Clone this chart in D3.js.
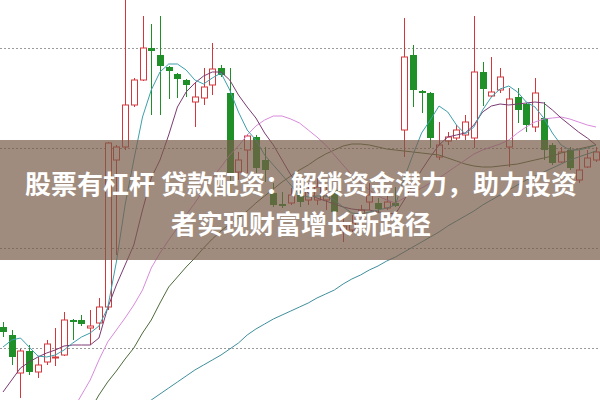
<!DOCTYPE html>
<html><head><meta charset="utf-8">
<script src="https://cdn.jsdelivr.net/npm/d3@7/dist/d3.min.js"></script>
<style>html,body{margin:0;padding:0;background:#fff;overflow:hidden}</style>
</head><body><svg id="c" width="600" height="400"></svg>
<script>
const opens  = [11.05,10.65,8.75,9.85,8.80,9.30,9.50,9.65,11.40,11.40,11.00,11.25,12.05,19.40,20.05,22.15,23.40,25.00,24.65,24.05,23.70,23.40,22.30,22.50,23.15,24.00,22.75,18.80,19.90,20.55,19.40,17.75,17.20,17.25,17.75,17.40,17.40,17.40,17.90,15.90,15.90,16.70,17.30,17.25,17.00,17.25,20.90,24.65,22.85,22.75,19.55,20.35,20.50,20.65,20.50,23.80,22.60,22.90,20.05,22.55,22.20,21.05,21.50,20.15,19.30,19.90,18.40,19.05,19.40];
const highs  = [11.30,10.90,9.95,10.15,9.55,10.40,11.00,11.80,11.45,11.65,11.90,12.50,20.30,20.15,27.40,23.50,26.60,26.20,26.60,24.10,23.75,23.45,23.25,24.00,25.25,24.15,24.00,19.80,20.70,20.65,20.05,18.25,17.80,18.00,18.05,18.25,18.50,18.15,18.15,16.65,16.65,17.15,18.25,17.50,17.90,18.05,26.50,25.15,22.90,22.80,21.30,20.80,21.15,21.65,26.60,24.30,24.55,24.00,23.00,23.00,22.25,23.50,22.30,20.25,20.05,20.05,19.90,19.90,20.05];
const lows   = [10.55,9.15,7.50,8.65,8.50,9.15,9.10,9.60,10.40,11.10,10.15,10.90,11.90,14.65,19.90,22.05,23.35,21.65,21.65,22.45,22.50,22.55,21.05,22.15,22.65,23.55,17.65,18.40,18.75,18.75,18.30,17.05,17.00,17.15,17.05,17.15,17.15,16.90,16.55,15.30,15.80,16.40,16.90,16.75,16.90,17.05,19.55,22.05,21.75,20.00,19.40,20.15,20.40,20.40,20.00,22.10,22.55,22.75,19.05,21.25,20.80,20.80,19.40,19.15,19.25,18.90,18.25,19.00,19.30];
const closes = [10.80,9.55,9.85,8.80,9.15,10.20,9.55,11.40,11.30,11.20,11.10,12.05,20.25,20.05,22.15,23.40,25.00,24.85,24.10,23.85,23.45,23.15,22.55,23.05,23.95,23.65,18.75,19.40,20.60,19.00,18.90,17.15,17.10,17.65,17.30,17.90,18.05,17.60,16.80,16.10,16.25,16.90,17.65,16.95,17.30,17.10,24.55,22.90,22.75,20.50,20.15,20.55,20.90,21.30,23.80,22.95,22.80,23.55,22.45,21.90,21.15,22.75,19.90,19.25,19.80,19.00,18.90,19.50,19.80];

const ma5  = [10.05,10.40,10.50,10.05,9.60,9.55,9.65,9.90,10.25,10.55,10.75,11.10,12.00,14.30,17.15,19.40,21.55,22.90,23.80,24.20,24.20,23.90,23.40,23.20,23.50,23.75,22.90,21.80,20.90,20.40,19.65,19.15,18.65,18.15,17.65,17.55,17.60,17.60,17.40,17.05,16.75,16.70,16.80,16.90,17.00,17.15,18.50,19.65,20.75,21.40,22.10,21.80,21.15,20.70,21.05,21.90,22.55,22.95,23.10,22.80,22.30,22.05,21.50,20.75,20.15,19.90,19.90,20.00,20.15];
const ma10 = [7.80,8.40,9.00,9.30,9.55,9.75,9.90,10.10,10.15,10.15,10.15,10.50,12.00,13.15,14.15,15.15,16.90,18.50,19.40,20.65,22.05,22.80,23.25,23.60,23.80,23.80,23.40,22.65,22.05,21.50,20.75,20.15,19.40,18.65,18.10,17.75,17.50,17.35,17.20,17.05,16.95,16.90,16.90,16.80,16.75,16.70,17.40,18.15,18.90,19.55,20.15,20.55,20.65,20.75,21.15,21.80,22.10,22.20,22.15,22.20,22.25,22.30,22.25,21.90,21.50,21.15,20.80,20.50,20.15];
const ma20 = [null,null,null,null,null,null,null,null,6.90,7.65,8.40,9.40,10.30,10.90,11.50,12.15,12.90,14.00,14.75,15.40,16.00,16.65,17.25,17.90,18.50,19.05,19.65,20.10,20.65,21.10,21.40,21.60,21.60,21.45,21.25,20.90,20.55,20.15,19.65,19.15,18.65,18.25,17.90,17.60,17.40,17.25,17.50,17.75,18.00,18.25,18.50,18.80,19.10,19.40,19.70,19.90,20.05,20.20,20.40,20.75,21.05,21.30,21.45,21.50,21.55,21.45,21.30,21.15,21.05];
const ma60 = [null,null,null,null,null,null,null,null,null,null,6.90,7.65,8.30,8.85,9.45,10.00,10.75,11.40,12.25,13.05,13.55,14.05,14.50,15.00,15.45,15.85,16.20,16.50,16.85,17.25,17.60,17.95,18.30,18.60,18.90,19.15,19.45,19.70,19.90,20.10,20.20,20.20,20.15,20.05,19.95,19.90,19.85,19.80,19.75,19.70,19.65,19.50,19.35,19.20,19.10,19.05,19.05,19.10,19.15,19.20,19.30,19.40,19.50,19.60,19.75,19.85,19.95,20.05,20.15];
const ma120 = [null,null,null,null,null,null,null,null,null,null,null,null,null,null,null,null,7.15,7.40,7.70,8.00,8.30,8.60,8.90,9.15,9.40,9.65,9.95,10.25,10.65,10.95,11.20,11.45,11.65,11.85,12.05,12.25,12.50,12.70,12.90,13.20,13.45,13.65,13.90,14.10,14.35,14.55,14.80,15.05,15.30,15.55,15.80,16.10,16.35,16.60,16.85,17.15,17.40,17.65,17.90,18.15,18.40,18.60,18.80,19.00,19.20,19.40,19.55,19.70,19.85];
const gridTicks = [10, 15, 20, 25];
const titleLines = ["股票有杠杆 贷款配资：解锁资金潜力，助力投资", "者实现财富增长新路径"];

const W = 600, H = 400;
const svg = d3.select("#c");
const n = opens.length;
const x = d3.scaleLinear().domain([0, n - 1]).range([3, 596]);
const y = d3.scaleLinear().domain([7.4, 27.4]).range([H, 0]);
const bw = 6;
const RED = "#d2373c", GREEN = "#1f8f28";

svg.append("defs").append("clipPath").attr("id", "clip")
  .append("rect").attr("width", W).attr("height", H);
const g = svg.append("g").attr("clip-path", "url(#clip)");

// grid
g.append("g").selectAll("line").data(gridTicks).join("line")
  .attr("x1", 0).attr("x2", W)
  .attr("y1", d => Math.round(y(d)) + 0.5).attr("y2", d => Math.round(y(d)) + 0.5)
  .attr("stroke", "#9a9a9a").attr("stroke-width", 1).attr("stroke-dasharray", "2,2");

// candles
const data = d3.range(n).map(i => ({i, o: opens[i], h: highs[i], l: lows[i], c: closes[i]}));
const cg = g.append("g").selectAll("g").data(data).join("g");
cg.each(function(d) {
  const s = d3.select(this);
  const up = d.c >= d.o;
  const cx = Math.round(x(d.i)) + 0.5;
  const top = y(Math.max(d.o, d.c)), bot = y(Math.min(d.o, d.c));
  const col = up ? RED : GREEN;
  if (up) {
    s.append("line").attr("x1", cx).attr("x2", cx).attr("y1", y(d.h)).attr("y2", top).attr("stroke", col);
    s.append("line").attr("x1", cx).attr("x2", cx).attr("y1", bot).attr("y2", y(d.l)).attr("stroke", col);
    s.append("rect").attr("x", cx - bw / 2).attr("y", top).attr("width", bw)
      .attr("height", Math.max(1, bot - top)).attr("fill", "#fff").attr("stroke", col).attr("stroke-width", 1);
  } else {
    s.append("line").attr("x1", cx).attr("x2", cx).attr("y1", y(d.h)).attr("y2", y(d.l)).attr("stroke", col);
    s.append("rect").attr("x", cx - bw / 2 - 0.5).attr("y", top).attr("width", bw + 1)
      .attr("height", Math.max(2, bot - top)).attr("fill", col);
  }
});

// moving averages
const lineGen = d3.line().defined(d => d != null).x((d, i) => x(i)).y(d => y(d));
const series = [
  {v: ma120, color: "#3f8f9c"},
  {v: ma60, color: "#4d6b3c"},
  {v: ma20, color: "#d98bdc"},
  {v: ma10, color: "#7a3a72"},
  {v: ma5, color: "#3d9fab"}
];
g.append("g").selectAll("path").data(series).join("path")
  .attr("d", d => lineGen(d.v)).attr("fill", "none")
  .attr("stroke", d => d.color).attr("stroke-width", 1);

// banner overlay
svg.append("rect").attr("x", 0).attr("y", 140).attr("width", W).attr("height", 120)
  .attr("fill", "rgb(119,91,71)").attr("fill-opacity", 0.7);
svg.append("g").selectAll("text").data(titleLines).join("text")
  .attr("x", 301).attr("y", (d, i) => 182 + i * 40)
  .attr("text-anchor", "middle").attr("dominant-baseline", "central")
  .attr("font-family", "'Noto Sans CJK SC', sans-serif").attr("font-weight", "bold")
  .attr("font-size", 26).attr("fill", "#fff").text(d => d);
</script></body></html>
